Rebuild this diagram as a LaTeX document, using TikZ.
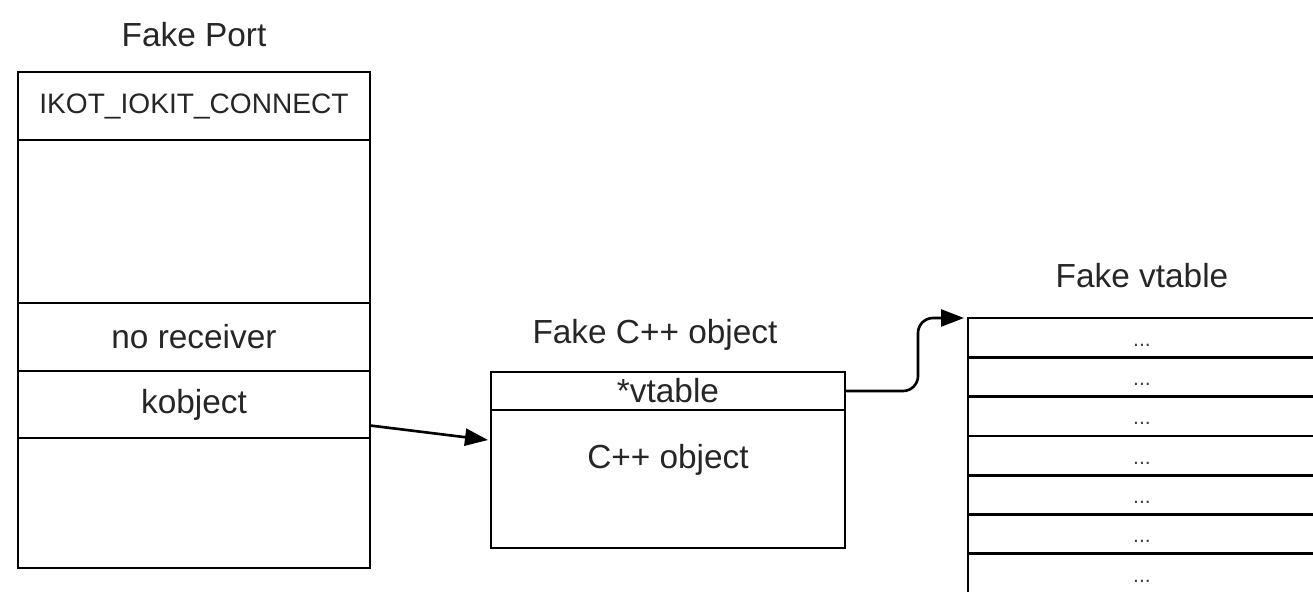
\documentclass[tikz,border=0pt]{standalone}
\usepackage{fontspec}
\setmainfont{Liberation Sans}
\usepackage{tikz}
\usetikzlibrary{positioning,calc,arrows.meta}

\tikzset{
	cell/.style={minimum width=7.04cm,draw=black,line width=1.5pt,inner sep=0pt,outer sep=0pt},
	vrow/.style={minimum width=6.96cm,minimum height=0.786cm,draw=black,line width=1.5pt,inner sep=0pt,outer sep=0pt},
	dotlbl/.style={anchor=center,yshift=-0.15cm,font=\fontsize{12}{12}\selectfont,text=black!75},
	ptr/.style={-{Triangle[length=0.46cm,width=0.34cm]},line width=1.5pt},
}

\begin{document}
\begin{tikzpicture}[font=\fontsize{19}{23}\selectfont,text=black!85]
		\useasboundingbox (0,0) rectangle (26.26,-11.84);
		\clip (0,0) rectangle (26.26,-11.84);
		% fake port
		\node[cell,minimum height=1.36cm,anchor=north west,font=\fontsize{16}{19}\selectfont] (hdr) at (0.36,-1.44) {IKOT\_IOKIT\_CONNECT};
		\node[shift={(0,0.74)}] (porttitle) at (hdr.north) {Fake Port};
		\node[cell,minimum height=3.26cm,anchor=north] (blank) at (hdr.south) {};
		\node[cell,minimum height=1.36cm,anchor=north] (norecv) at (blank.south) {no receiver};
		\node[cell,minimum height=1.34cm,anchor=north] (kobj) at (norecv.south) {kobject};
		\node[cell,minimum height=2.60cm,anchor=north] (rest) at (kobj.south) {};
		
		% fake c++ object
		\node[cell,minimum width=7.08cm,minimum height=0.76cm,anchor=north west] (vptr) at (9.82,-7.44) {*vtable};
		\node[shift={(-0.26,0.74)}] (objtitle) at (vptr.north) {Fake C++ object};
		\node[cell,minimum width=7.08cm,minimum height=2.76cm,anchor=north,label={[anchor=center,yshift=-1cm]north:C++ object}] (objbody) at (vptr.south) {};
		
		% fake vtable
		\node[vrow,anchor=north west,label={[dotlbl]center:...}] (v0) at (19.36,-6.36) {};
		\node[shift={(0,0.84)}] (vttitle) at (v0.north) {Fake vtable};
		\node[vrow,anchor=north,label={[dotlbl]center:...}] (v1) at (v0.south) {};
		\node[vrow,anchor=north,label={[dotlbl]center:...}] (v2) at (v1.south) {};
		\node[vrow,anchor=north,label={[dotlbl]center:...}] (v3) at (v2.south) {};
		\node[vrow,anchor=north,label={[dotlbl]center:...}] (v4) at (v3.south) {};
		\node[vrow,anchor=north,label={[dotlbl]center:...}] (v5) at (v4.south) {};
		\node[vrow,anchor=north,label={[dotlbl]center:...}] (v6) at (v5.south) {};
		
		\draw[ptr] ([yshift=-0.42cm]kobj.east)--([yshift=-0.6cm,xshift=-0.06cm]objbody.north west);
		\draw[ptr,rounded corners=0.3cm] (vptr.east) -| ([xshift=-1cm]v0.north west) -- ([xshift=-0.08cm]v0.north west);
	\end{tikzpicture}
\end{document}
